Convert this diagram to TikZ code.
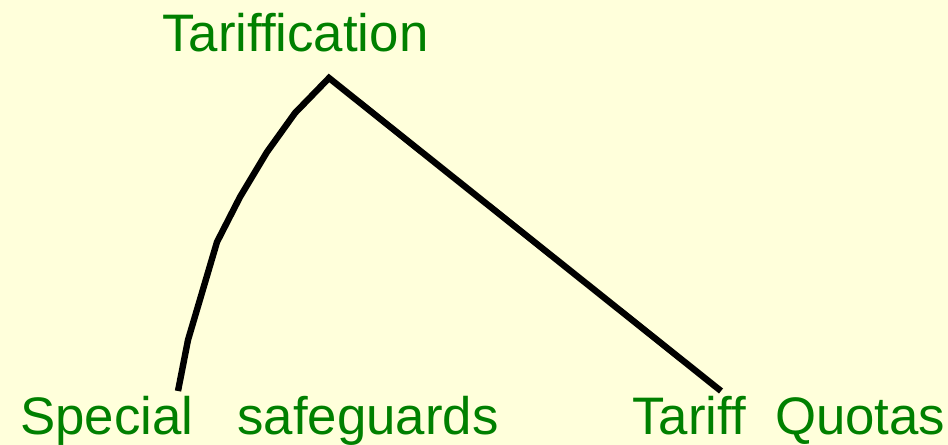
\documentclass[tikz,border=0pt]{standalone}
\usepackage{fontspec}
\setmainfont{Liberation Sans}
\definecolor{bgyellow}{RGB}{255,255,219}
\definecolor{labelgreen}{RGB}{0,128,0}
\begin{document}
\begin{tikzpicture}[x=0.75pt,y=-0.75pt,
  lbl/.style={text=labelgreen,font=\fontsize{39.6}{42}\selectfont,inner sep=0pt,anchor=base west},
  branch/.style={draw=black,line width=4.8pt,line join=miter}]
\fill[bgyellow] (0,0) rectangle (948,445);
\useasboundingbox (0,0) rectangle (948,445);
\node[lbl] (top) at (162,52) {Tariffication};
\node[lbl] (left) at (20,434) {Special~~~safeguards};
\node[lbl] (right) at (632,434) {Tariff~~Quotas};
\coordinate (apex) at (329,78);
\coordinate (lend) at (178,391);
\coordinate (rend) at (721,391);
\draw[branch] (lend) -- (188,340) -- (217,242) -- (240,197) -- (267,152) -- (295,113) -- (apex) -- (rend);
\end{tikzpicture}
\end{document}
